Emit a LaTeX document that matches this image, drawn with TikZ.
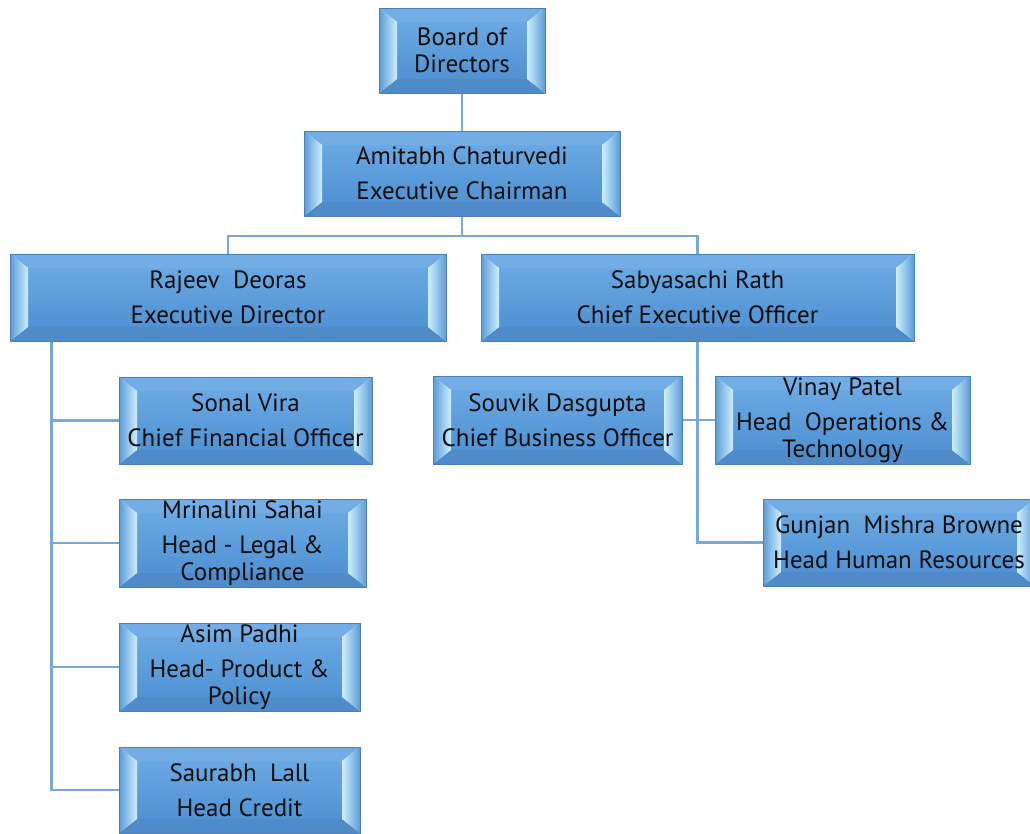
\documentclass[tikz,border=0pt]{standalone}
\usepackage{fontspec}
\newfontfamily\orgfont{PT Sans}
\usetikzlibrary{calc}
\pgfdeclarelayer{background}
\pgfsetlayers{background,main}
\definecolor{facetop}{HTML}{69A8E2}
\definecolor{facebot}{HTML}{5092D3}
\definecolor{bandtop}{HTML}{72AEE5}
\definecolor{bandbot}{HTML}{4F8BC8}
\definecolor{bandside}{HTML}{5B9BD8}
\definecolor{bevlight}{HTML}{CDEFFC}
\definecolor{bevborder}{HTML}{4A80BA}
\definecolor{conncol}{HTML}{77A7DB}
\definecolor{textcol}{HTML}{0E0E0E}
\tikzset{
  bev/.style={draw=bevborder, line width=0.7pt, inner sep=0pt, align=center,
    font=\orgfont\fontsize{25}{27}\selectfont, text=textcol,
    path picture={
      \coordinate (pnw) at (path picture bounding box.north west);
      \coordinate (pse) at (path picture bounding box.south east);
      \coordinate (pne) at (pse |- pnw);
      \coordinate (psw) at (pnw |- pse);
      \coordinate (inw) at ([shift={(18pt,-14pt)}]pnw);
      \coordinate (ise) at ([shift={(-18pt,14pt)}]pse);
      \coordinate (ine) at (ise |- inw);
      \coordinate (isw) at (inw |- ise);
      \shade[top color=facetop, bottom color=facebot] (inw) rectangle (ise);
      \fill[bandtop] (pnw) -- (pne) -- (ine) -- (inw) -- cycle;
      \fill[bandbot] (psw) -- (pse) -- (ise) -- (isw) -- cycle;
      \shade[left color=bandside, right color=bevlight] (pnw) -- (inw) -- (isw) -- (psw) -- cycle;
      \shade[left color=bevlight, right color=bandside] (pne) -- (ine) -- (ise) -- (pse) -- cycle;
    }},
  conn/.style={draw=conncol, line width=2.6pt}
}
\begin{document}
\begin{tikzpicture}[x=1pt,y=-1pt]
\useasboundingbox (0,0) rectangle (1030,833);

\node[bev, minimum width=166pt, minimum height=85pt] (board) at (462,50.5) {Board of\\Directors};
\node[bev, minimum width=316pt, minimum height=85pt] (amit) at (462,173.5) {Amitabh Chaturvedi\\[8pt]Executive Chairman};
\node[bev, minimum width=436pt, minimum height=87pt] (rajeev) at (228,297.5) {Rajeev\ \ Deoras\\[8pt]Executive Director};
\node[bev, minimum width=433pt, minimum height=87pt] (sabya) at (697.5,297.5) {Sabyasachi Rath\\[8pt]Chief Executive Officer};
\node[bev, minimum width=253pt, minimum height=87pt] (sonal) at (245.5,420.5) {Sonal Vira\\[8pt]Chief Financial Officer};
\node[bev, minimum width=247pt, minimum height=88pt] (mrin) at (242.5,543) {Mrinalini Sahai\\[8pt]Head - Legal \&\\Compliance};
\node[bev, minimum width=241pt, minimum height=88pt] (asim) at (239.5,667) {Asim Padhi\\[8pt]Head- Product \&\\Policy};
\node[bev, minimum width=241pt, minimum height=86pt] (saurabh) at (239.5,790) {Saurabh\ \ Lall\\[8pt]Head Credit};
\node[bev, minimum width=249pt, minimum height=88pt] (souvik) at (557.5,420) {Souvik Dasgupta\\[8pt]Chief Business Officer};
\node[bev, minimum width=255pt, minimum height=88pt] (vinay) at (842.5,420) {Vinay Patel\\[8pt]Head\ \ Operations \&\\Technology};
\node[bev, minimum width=272pt, minimum height=87pt] (gunjan) at (899,542.5) {Gunjan\ \ Mishra Browne\\[8pt]Head Human Resources};

\coordinate (j1) at (462,236);
\coordinate (rv) at ([xshift=42pt]rajeev.south west);
\begin{pgfonlayer}{background}
  \fill[white] (0,0) rectangle (1030,833);
  \draw[conn] (board.south) -- (amit.north);
  \draw[conn] (amit.south) -- (j1) -| (rajeev.north);
  \draw[conn] (j1) -| (sabya.north);
  \draw[conn] (rv) |- (saurabh.west);
  \draw[conn] (rv |- sonal.west) -- (sonal.west);
  \draw[conn] (rv |- mrin.west) -- (mrin.west);
  \draw[conn] (rv |- asim.west) -- (asim.west);
  \draw[conn] (sabya.south) |- (gunjan.west);
  \draw[conn] (souvik.east) -- (vinay.west);
\end{pgfonlayer}
\end{tikzpicture}
\end{document}
